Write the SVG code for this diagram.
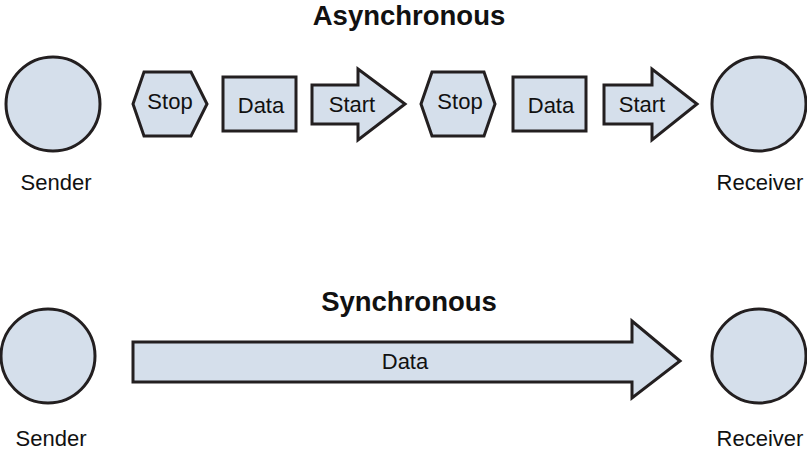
<svg xmlns="http://www.w3.org/2000/svg" width="807" height="451" viewBox="0 0 807 451">
<style>
.s{fill:#d5dfeb;stroke:#231f20;stroke-width:3;stroke-linejoin:miter}
.t{font-family:"Liberation Sans",Arial,sans-serif;font-size:22px;fill:#111;text-anchor:middle}
.h{font-family:"Liberation Sans",Arial,sans-serif;font-size:27.5px;font-weight:bold;fill:#111;text-anchor:middle}
</style>
<rect width="807" height="451" fill="#fff"/>
<text class="h" x="409" y="25">Asynchronous</text>
<text class="h" x="409" y="311">Synchronous</text>
<g id="sender1"><circle class="s" cx="53" cy="104" r="47"/><text class="t" x="56" y="190">Sender</text></g>
<g id="stop1"><polygon class="s" points="133,104 144,72 191,72 207,104 191,136 144,136"/><text class="t" x="170" y="109">Stop</text></g>
<g id="data1"><rect class="s" x="223" y="77" width="73" height="54"/><text class="t" x="261" y="113">Data</text></g>
<g id="start1"><polygon class="s" points="312,85 358,85 358,69 405,104 358,140 358,124 312,124"/><text class="t" x="352" y="112">Start</text></g>
<g id="stop2"><polygon class="s" points="421,104 432,72 484,72 495,104 484,136 432,136"/><text class="t" x="460" y="109">Stop</text></g>
<g id="data2"><rect class="s" x="513" y="77" width="73" height="54"/><text class="t" x="551" y="113">Data</text></g>
<g id="start2"><polygon class="s" points="604,85 652,85 652,69 697,104 652,140 652,124 604,124"/><text class="t" x="642" y="112">Start</text></g>
<g id="receiver1"><circle class="s" cx="759" cy="104" r="47"/><text class="t" x="760" y="190">Receiver</text></g>
<g id="sender2"><circle class="s" cx="48" cy="356" r="47"/><text class="t" x="51" y="446">Sender</text></g>
<g id="data3"><polygon class="s" points="133,342 632,342 632,321 680,361 632,398 632,382 133,382"/><text class="t" x="405" y="369">Data</text></g>
<g id="receiver2"><circle class="s" cx="759" cy="356" r="47"/><text class="t" x="760" y="446">Receiver</text></g>
<g id="connectors"></g>
</svg>
